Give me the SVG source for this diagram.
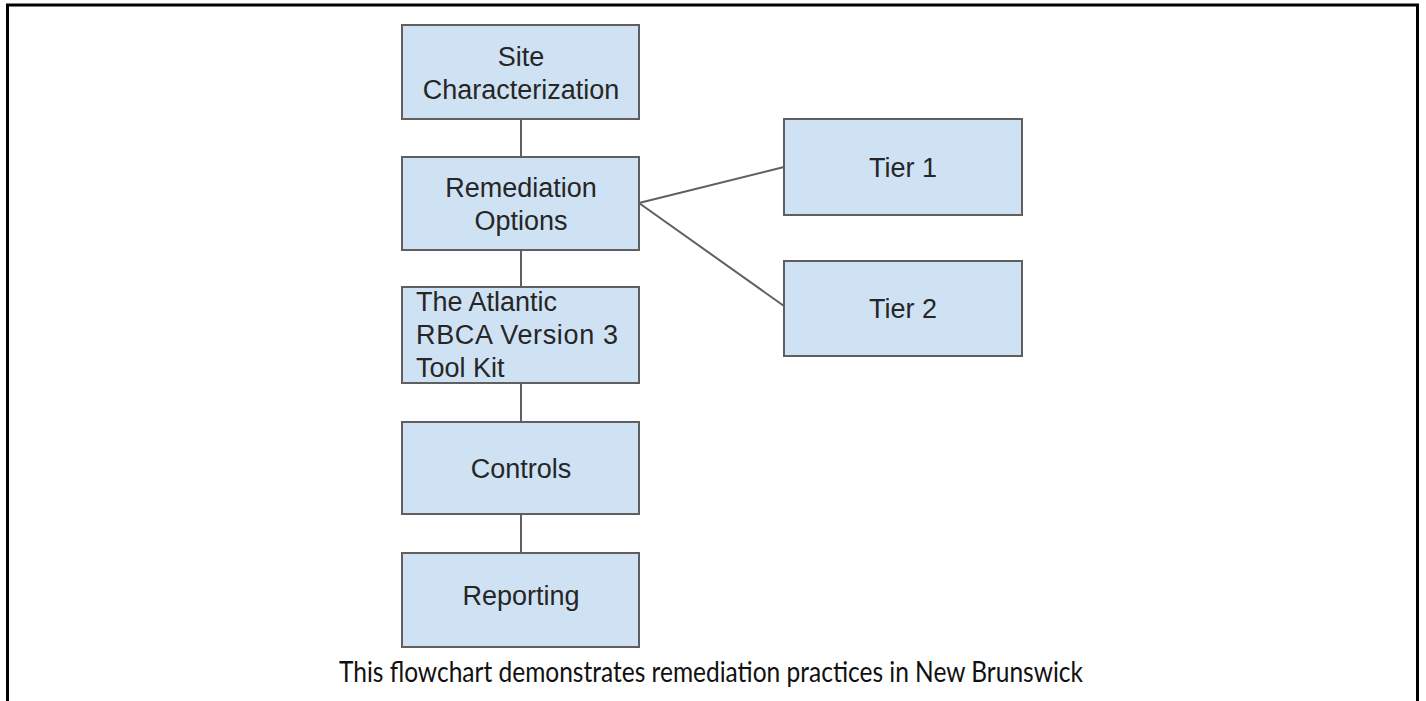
<svg xmlns="http://www.w3.org/2000/svg" width="1426" height="701" viewBox="0 0 1426 701">
<style>
.box{fill:#cfe2f3;stroke:#5f5f5f;stroke-width:2}
.lbl{font-family:"Liberation Sans",Arial,sans-serif;font-size:27px;fill:#262626;text-anchor:middle}
.lft{text-anchor:start}
.con{stroke:#5f5f5f;stroke-width:2;fill:none}
.cap{font-family:Lato,"Open Sans",sans-serif;font-size:28px;fill:#111;text-anchor:middle}
</style>
<rect width="1426" height="701" fill="#fff"/>
<path d="M7.5,701 V5 H1417.5 V701" fill="none" stroke="#000" stroke-width="3"/>
<g id="connectors">
<line class="con" x1="521" y1="119" x2="521" y2="157"/>
<line class="con" x1="521" y1="250" x2="521" y2="287"/>
<line class="con" x1="521" y1="383" x2="521" y2="422"/>
<line class="con" x1="521" y1="514" x2="521" y2="553"/>
<line class="con" x1="639" y1="203" x2="784" y2="167"/>
<line class="con" x1="639" y1="203" x2="784" y2="306"/>
</g>
<g id="site">
<rect class="box" x="402" y="25" width="237" height="94"/>
<text class="lbl" x="521" y="66">Site</text>
<text class="lbl" x="521" y="99">Characterization</text>
</g>
<g id="remediation">
<rect class="box" x="402" y="157" width="237" height="93"/>
<text class="lbl" x="521" y="197">Remediation</text>
<text class="lbl" x="521" y="230">Options</text>
</g>
<g id="atlantic">
<rect class="box" x="402" y="287" width="237" height="96"/>
<text class="lbl lft" x="416" y="311">The Atlantic</text>
<text class="lbl lft" x="416" y="344" textLength="202">RBCA Version 3</text>
<text class="lbl lft" x="416" y="377">Tool Kit</text>
</g>
<g id="controls">
<rect class="box" x="402" y="422" width="237" height="92"/>
<text class="lbl" x="521" y="478">Controls</text>
</g>
<g id="reporting">
<rect class="box" x="402" y="553" width="237" height="94"/>
<text class="lbl" x="521" y="605">Reporting</text>
</g>
<g id="tier1">
<rect class="box" x="784" y="119" width="238" height="96"/>
<text class="lbl" x="903" y="177">Tier 1</text>
</g>
<g id="tier2">
<rect class="box" x="784" y="261" width="238" height="95"/>
<text class="lbl" x="903" y="318">Tier 2</text>
</g>
<text class="cap" x="711" y="682" textLength="744" lengthAdjust="spacingAndGlyphs">This flowchart demonstrates remediation practices in New Brunswick</text>
</svg>
